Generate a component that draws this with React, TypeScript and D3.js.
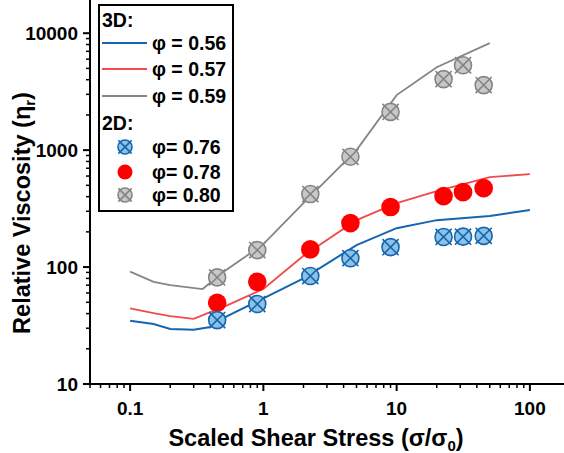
import React from "react";
import * as d3 from "d3";

const W = 564;
const H = 453;

// 3D simulation lines
const line056X = [0.1, 0.15, 0.2, 0.3, 0.4, 0.5, 1, 2, 5, 10, 20, 50, 100];
const line056Y = [34.8, 32.6, 29.6, 29.1, 30.7, 36.6, 54, 80, 154, 215, 252, 273, 307];
const line057X = [0.1, 0.15, 0.2, 0.3, 0.4, 0.5, 1, 2, 5, 10, 20, 50, 100];
const line057Y = [44.4, 40.4, 38.1, 36.1, 41.2, 45.5, 65, 125, 252, 352, 447, 588, 624];
const line059X = [0.1, 0.15, 0.2, 0.35, 0.5, 1, 2, 5, 10, 20, 50];
const line059Y = [91.3, 74.8, 70, 64.9, 90.6, 157, 352, 1000, 2954, 5120, 8220];

// 2D data points
const ptsX = [0.45, 0.9, 2.25, 4.5, 9, 22.5, 31.5, 45];
const pts076 = [35.2, 48.3, 83.8, 119, 148, 181, 182, 185];
const pts078 = [49.5, 74.8, 141.6, 237.7, 326, 404, 437, 473];
const pts080 = [81.6, 139.7, 421, 877, 2123, 4050, 5320, 3600];

const xTicks = [0.1, 1, 10, 100];
const xTickLabels = ["0.1", "1", "10", "100"];
const yTicks = [10, 100, 1000, 10000];
const yTickLabels = ["10", "100", "1000", "10000"];

const BLUE = "#1565b0";
const BLUE_FILL = "#8cc2e6";
const RED_LINE = "#f24a4a";
const RED = "#ff0000";
const GRAY = "#858585";
const GRAY_FILL = "#c8c8c8";

const FONT = "'Liberation Sans', Arial, sans-serif";

const x = d3.scaleLog().domain([0.05, 200]).range([90, 570]);
const y = d3.scaleLog().domain([10, 20000]).range([384, -2]);

function minorTicks(lo: number, hi: number) {
  const out: number[] = [];
  for (let d = lo; d < hi; d *= 10) {
    for (let k = 1; k <= 9; k++) out.push(d * k);
  }
  return out;
}

function XMarker({ cx, cy, r, fill, stroke }: { cx: number; cy: number; r: number; fill: string; stroke: string }) {
  const e = r * 0.95;
  return (
    <g>
      <circle cx={cx} cy={cy} r={r} fill={fill} stroke={stroke} strokeWidth={1.6} />
      <line x1={cx - e} y1={cy - e} x2={cx + e} y2={cy + e} stroke={stroke} strokeWidth={1.6} />
      <line x1={cx - e} y1={cy + e} x2={cx + e} y2={cy - e} stroke={stroke} strokeWidth={1.6} />
    </g>
  );
}

export default function App() {
  const lineGen = d3
    .line<[number, number]>()
    .x((d) => x(d[0]))
    .y((d) => y(d[1]));
  const mk = (xs: number[], ys: number[]) => lineGen(xs.map((v, i) => [v, ys[i]] as [number, number])) || "";

  const xMin = minorTicks(0.01, 1000).filter((v) => v >= 0.05 && v <= 200 && !xTicks.some((t) => Math.abs(t - v) < 1e-9));
  const yMin = minorTicks(1, 100000).filter((v) => v >= 10 && v <= 20000 && !yTicks.some((t) => Math.abs(t - v) < 1e-9));

  const R = 8.5;
  const LF = 19.5;
  return (
    <div style={{ position: "absolute", left: 0, top: 0 }}>
      <svg width={W} height={H} style={{ display: "block", background: "#fff" }} fontFamily={FONT}>
        {/* lines */}
        <path d={mk(line059X, line059Y)} fill="none" stroke={GRAY} strokeWidth={1.8} />
        <path d={mk(line057X, line057Y)} fill="none" stroke={RED_LINE} strokeWidth={1.8} />
        <path d={mk(line056X, line056Y)} fill="none" stroke={BLUE} strokeWidth={2} />

        {/* markers */}
        {ptsX.map((v, i) => (
          <XMarker key={"g" + i} cx={x(v)} cy={y(pts080[i])} r={R} fill={GRAY_FILL} stroke={GRAY} />
        ))}
        {ptsX.map((v, i) => (
          <circle key={"r" + i} cx={x(v)} cy={y(pts078[i])} r={R + 0.8} fill={RED} />
        ))}
        {ptsX.map((v, i) => (
          <XMarker key={"b" + i} cx={x(v)} cy={y(pts076[i])} r={R} fill={BLUE_FILL} stroke={BLUE} />
        ))}

        {/* axes */}
        <line x1={90} y1={0} x2={90} y2={385} stroke="#000" strokeWidth={2} />
        <line x1={89} y1={384} x2={W} y2={384} stroke="#000" strokeWidth={2} />
        {xTicks.map((t, i) => (
          <g key={"xt" + i}>
            <line x1={x(t)} y1={384} x2={x(t)} y2={391} stroke="#000" strokeWidth={2} />
            <text x={x(t)} y={415} textAnchor="middle" fontSize={19} fontWeight="bold">
              {xTickLabels[i]}
            </text>
          </g>
        ))}
        {xMin.map((t, i) => (
          <line key={"xm" + i} x1={x(t)} y1={384} x2={x(t)} y2={388} stroke="#000" strokeWidth={1.5} />
        ))}
        {yTicks.map((t, i) => (
          <g key={"yt" + i}>
            <line x1={83} y1={y(t)} x2={90} y2={y(t)} stroke="#000" strokeWidth={2} />
            <text x={78} y={y(t) + 7} textAnchor="end" fontSize={19} fontWeight="bold">
              {yTickLabels[i]}
            </text>
          </g>
        ))}
        {yMin.map((t, i) => (
          <line key={"ym" + i} x1={86} y1={y(t)} x2={90} y2={y(t)} stroke="#000" strokeWidth={1.5} />
        ))}

        {/* axis titles */}
        <text x={316} y={446} textAnchor="middle" fontSize={23.5} fontWeight="bold">
          Scaled Shear Stress (σ/σ<tspan dy={5} fontSize={15}>0</tspan>
          <tspan dy={-5}>)</tspan>
        </text>
        <text transform="translate(30,213) rotate(-90)" textAnchor="middle" fontSize={23.5} fontWeight="bold">
          Relative Viscosity (η<tspan dy={5} fontSize={15}>r</tspan>
          <tspan dy={-5}>)</tspan>
        </text>

        {/* legend */}
        <rect x={99} y={5} width={134} height={206} fill="#fff" stroke="#000" strokeWidth={2} />
        <text x={102} y={27} fontSize={LF} fontWeight="bold">3D:</text>
        {[
          { c: BLUE, t: "φ = 0.56", yy: 43 },
          { c: RED_LINE, t: "φ = 0.57", yy: 69 },
          { c: GRAY, t: "φ = 0.59", yy: 96 },
        ].map((d, i) => (
          <g key={"l" + i}>
            <line x1={102} y1={d.yy} x2={147} y2={d.yy} stroke={d.c} strokeWidth={2} />
            <text x={152} y={d.yy + 7} fontSize={LF} fontWeight="bold">{d.t}</text>
          </g>
        ))}
        <text x={102} y={130} fontSize={LF} fontWeight="bold">2D:</text>
        <XMarker cx={125} cy={147} r={7} fill={BLUE_FILL} stroke={BLUE} />
        <text x={152} y={154} fontSize={LF} fontWeight="bold">φ= 0.76</text>
        <circle cx={125} cy={172} r={7.5} fill={RED} />
        <text x={152} y={179} fontSize={LF} fontWeight="bold">φ= 0.78</text>
        <XMarker cx={125} cy={195} r={7} fill={GRAY_FILL} stroke={GRAY} />
        <text x={152} y={202} fontSize={LF} fontWeight="bold">φ= 0.80</text>
      </svg>
    </div>
  );
}
